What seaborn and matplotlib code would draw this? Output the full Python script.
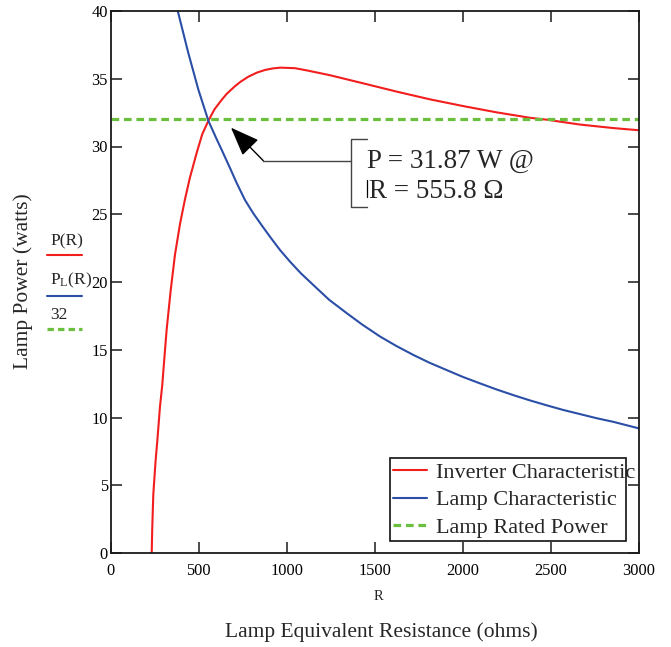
import matplotlib
matplotlib.use("Agg")
import matplotlib.pyplot as plt
from matplotlib.lines import Line2D
from matplotlib.patches import Rectangle
import seaborn as sns
import pandas as pd

# Inverter output power P(R) versus lamp equivalent resistance
r_inverter = [233, 236, 242, 255, 265, 280, 293, 305, 318, 341, 365, 394, 422,
              450, 490, 520, 555, 590, 631, 660, 706, 740, 782, 830, 877, 920,
              965, 1047, 1113, 1246, 1435, 1625, 1814, 2004, 2193, 2382, 2477,
              2666, 2856, 3000]
p_inverter = [0.0, 1.8, 4.3, 6.8, 8.3, 10.8, 12.4, 14.4, 16.5, 19.4, 22.0, 24.3,
              26.1, 27.7, 29.6, 30.9, 31.9, 32.75, 33.45, 33.9, 34.45, 34.8,
              35.15, 35.45, 35.65, 35.76, 35.82, 35.78, 35.62, 35.26, 34.66,
              34.05, 33.48, 32.98, 32.52, 32.12, 31.98, 31.62, 31.36, 31.2]

# Lamp characteristic P_L(R)
r_lamp = [381, 441, 498, 555, 600, 631, 680, 716, 763, 810, 860, 905, 962,
          1019, 1080, 1151, 1240, 1341, 1430, 1530, 1620, 1719, 1810, 1909,
          2000, 2098, 2190, 2288, 2380, 2477, 2570, 2667, 2760, 2856, 3000]
p_lamp = [40.0, 36.9, 34.2, 31.9, 30.6, 29.74, 28.35, 27.3, 26.05, 25.07,
          24.15, 23.34, 22.36, 21.5, 20.65, 19.78, 18.7, 17.7, 16.85, 15.98,
          15.3, 14.62, 14.05, 13.5, 13.0, 12.52, 12.08, 11.65, 11.27, 10.9,
          10.56, 10.25, 9.95, 9.68, 9.2]

# Lamp rated power
r_rated = [0, 3000]
p_rated = [32, 32]

# Operating point
r_op = 555.8
p_op = 31.87

series_names = ["Inverter Characteristic", "Lamp Characteristic", "Lamp Rated Power"]
x_ticks = [0, 500, 1000, 1500, 2000, 2500, 3000]
y_ticks = [0, 5, 10, 15, 20, 25, 30, 35, 40]

RED = "#f21d1d"
BLUE = "#2b4ea6"
GREEN = "#6bbf3f"

sns.set_theme(style="ticks")
plt.rcParams["font.family"] = ["Liberation Serif", "DejaVu Serif"]
plt.rcParams["mathtext.fontset"] = "custom"
plt.rcParams["mathtext.rm"] = "Liberation Serif"

W, H = 671, 647
fig = plt.figure(figsize=(W / 100, H / 100), dpi=100)


def px(x, y):
    """Pixel position (from top-left) to figure fraction."""
    return x / W, 1 - y / H


ax = fig.add_axes([110.7 / W, 1 - 553 / H, 528 / W, 542 / H])

df_inv = pd.DataFrame({"R": r_inverter, "P": p_inverter})
df_lamp = pd.DataFrame({"R": r_lamp, "P": p_lamp})
df_rated = pd.DataFrame({"R": r_rated, "P": p_rated})

sns.lineplot(data=df_inv, x="R", y="P", ax=ax, color=RED, lw=1.5,
             sort=False, estimator=None)
sns.lineplot(data=df_lamp, x="R", y="P", ax=ax, color=BLUE, lw=1.5,
             sort=False, estimator=None)
sns.lineplot(data=df_rated, x="R", y="P", ax=ax, color=GREEN, lw=2.3,
             dashes=False, estimator=None, linestyle=(0, (2.4, 1.5)))

ax.set_xlim(0, 3000)
ax.set_ylim(0, 40)
ax.set_xticks(x_ticks)
ax.set_yticks(y_ticks)
ax.set_xlabel("")
ax.set_ylabel("")
for s in ax.spines.values():
    s.set_linewidth(1.3)
    s.set_color("#1a1a1a")
ax.tick_params(direction="in", length=8, width=1.1, top=True, right=True,
               labelsize=11.8, colors="#1a1a1a", labelcolor="black")
ax.tick_params(axis="x", pad=7)
ax.tick_params(axis="y", pad=2)

# Legend with its own frame
handles = [Line2D([], [], color=RED, lw=1.5),
           Line2D([], [], color=BLUE, lw=1.5),
           Line2D([], [], color=GREEN, lw=2.3, linestyle=(0, (2.4, 1.5)))]
ax.legend(handles, series_names, loc="upper left",
          bbox_to_anchor=px(392.7, 462.5), bbox_transform=fig.transFigure,
          frameon=False, fontsize=16, handlelength=1.53, handletextpad=0.42,
          labelspacing=0.3, borderpad=0, borderaxespad=0)
x0, y0 = px(390.3, 540.7)
x1, y1 = px(626.3, 457.7)
fig.add_artist(Rectangle((x0, y0), x1 - x0, y1 - y0, transform=fig.transFigure,
                         fill=False, lw=1.2, edgecolor="#111111", zorder=5))

# Axis titles
fig.text(*px(23, 281.5), "Lamp Power (watts)", rotation=90, ha="center",
         va="center", fontsize=15.5)
fig.text(*px(381, 632), "Lamp Equivalent Resistance (ohms)", ha="center",
         va="center", fontsize=15.5)
fig.text(*px(378, 596), "R", ha="center", va="center", fontsize=10.5)

# Trace key on the left
fig.text(*px(50, 241), "P(R)", ha="left", va="center", fontsize=12.5)
fig.add_artist(Line2D(*zip(px(47, 255), px(82, 255)), color=RED, lw=1.5,
                      transform=fig.transFigure))
fig.text(*px(50, 280), r"$\mathregular{P_L(R)}$", ha="left", va="center",
         fontsize=12.5)
fig.add_artist(Line2D(*zip(px(47, 295.7), px(82, 295.7)), color=BLUE, lw=1.5,
                      transform=fig.transFigure))
fig.text(*px(50, 315), "32", ha="left", va="center", fontsize=12.5)
fig.add_artist(Line2D(*zip(px(47, 329.3), px(82, 329.3)), color=GREEN, lw=2.3,
                      linestyle=(0, (2.0, 1.3)), transform=fig.transFigure))

# Operating-point callout
ann_color = "#444444"
fig.add_artist(Line2D(*zip(px(263.3, 160.7), px(350.7, 160.7)), color=ann_color,
                      lw=1.0, transform=fig.transFigure))
fig.add_artist(Line2D(*zip(px(366.7, 139), px(350.7, 139), px(350.7, 207.3),
                           px(366.7, 207.3)), color=ann_color, lw=1.0,
                      transform=fig.transFigure))
ax.annotate("", xy=px(231, 127.7), xycoords="figure fraction",
            xytext=px(263.3, 160.7), textcoords="figure fraction",
            arrowprops=dict(arrowstyle="-|>,head_length=18,head_width=7",
                            mutation_scale=1, color="black", lw=1.0,
                            shrinkA=0, shrinkB=0))
fig.text(*px(367, 168.3), f"P = {p_op:.2f} W @", ha="left", va="baseline",
         fontsize=19.5)
fig.text(*px(369, 198.3), f"R = {r_op:.1f} Ω", ha="left", va="baseline",
         fontsize=19.5)
fig.add_artist(Line2D(*zip(px(367, 180), px(367, 197)), color="black", lw=0.9,
                      transform=fig.transFigure))

fig.savefig("out.png", dpi=100)
